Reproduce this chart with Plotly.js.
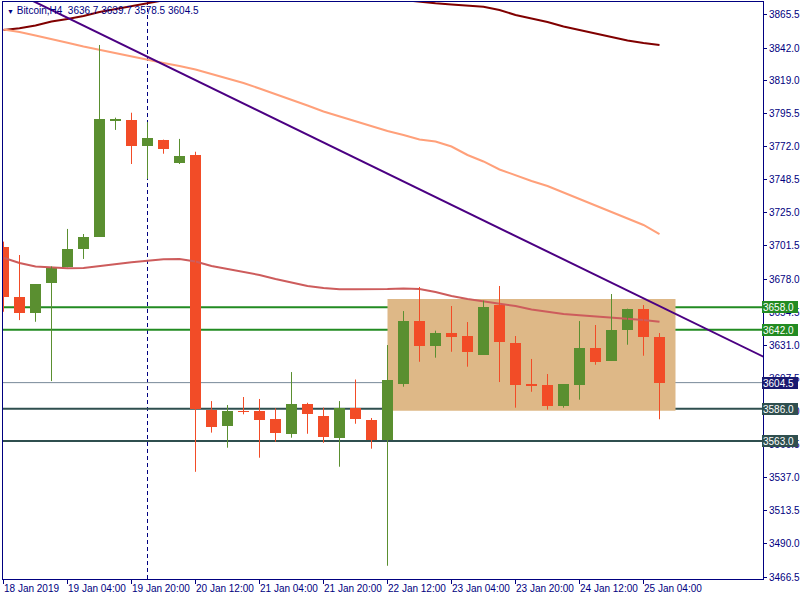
<!DOCTYPE html>
<html>
<head>
<meta charset="utf-8">
<script src="https://cdn.plot.ly/plotly-3.0.1.min.js"></script>
<style>html,body{margin:0;padding:0;background:#fff}#chart{width:800px;height:600px}</style>
</head>
<body>
<div id="chart"></div>
<script>
const symbolName = 'Bitcoin,H4';
const times = [
 '2019-01-18 12:00','2019-01-18 16:00','2019-01-18 20:00','2019-01-19 00:00','2019-01-19 04:00','2019-01-19 08:00',
 '2019-01-19 12:00','2019-01-19 16:00','2019-01-19 20:00','2019-01-20 00:00','2019-01-20 04:00','2019-01-20 08:00',
 '2019-01-20 12:00','2019-01-20 16:00','2019-01-20 20:00','2019-01-21 00:00','2019-01-21 04:00','2019-01-21 08:00',
 '2019-01-21 12:00','2019-01-21 16:00','2019-01-21 20:00','2019-01-22 00:00','2019-01-22 04:00','2019-01-22 08:00',
 '2019-01-22 12:00','2019-01-22 16:00','2019-01-22 20:00','2019-01-23 00:00','2019-01-23 04:00','2019-01-23 08:00',
 '2019-01-23 12:00','2019-01-23 16:00','2019-01-23 20:00','2019-01-24 00:00','2019-01-24 04:00','2019-01-24 08:00',
 '2019-01-24 12:00','2019-01-24 16:00','2019-01-24 20:00','2019-01-25 00:00','2019-01-25 04:00','2019-01-25 08:00'
];
const openP  = [3701.0,3665.5,3654.1,3675.0,3686.4,3699.4,3708.1,3790.5,3791.0,3772.7,3776.8,3760.4,3766.1,3585.1,3573.9,3584.3,3584.3,3578.7,3568.2,3589.3,3581.1,3565.4,3586.8,3578.0,3564.0,3603.7,3648.2,3630.7,3639.7,3637.6,3624.3,3659.6,3632.6,3603.5,3602.6,3588.1,3603.0,3629.1,3620.1,3642.1,3656.8,3636.7];
const highP  = [3704.6,3695.1,3674.5,3687.0,3713.6,3710.0,3844.2,3792.6,3796.1,3789.5,3777.0,3777.5,3768.4,3591.4,3588.6,3594.3,3592.9,3586.3,3612.0,3590.2,3586.8,3591.4,3606.7,3579.4,3631.2,3655.3,3672.4,3641.4,3658.9,3647.5,3662.7,3673.1,3637.6,3621.3,3610.6,3603.5,3648.2,3645.4,3667.4,3657.0,3659.6,3639.7];
const lowP   = [3654.8,3648.9,3647.7,3605.6,3686.4,3692.3,3708.1,3783.9,3759.7,3749.1,3767.0,3759.7,3541.2,3569.0,3558.3,3582.0,3551.2,3562.5,3565.4,3568.2,3561.8,3544.8,3575.3,3557.6,3474.5,3601.6,3619.3,3622.2,3626.4,3615.8,3624.3,3604.9,3586.7,3598.0,3585.3,3586.7,3592.4,3617.2,3620.1,3631.4,3623.6,3578.5];
const closeP = [3665.5,3654.1,3674.5,3686.4,3699.4,3708.1,3791.7,3791.6,3772.7,3778.4,3770.4,3765.4,3585.8,3573.2,3584.3,3583.6,3578.0,3569.0,3589.3,3582.4,3566.1,3586.8,3578.9,3564.0,3606.4,3648.2,3630.7,3639.7,3637.1,3626.4,3658.4,3633.5,3603.0,3602.3,3588.1,3603.5,3629.1,3619.3,3642.1,3656.8,3636.7,3604.5];

const maSlow = [3854.8,3856.1,3858.0,3860.9,3862.7,3864.8,3867.6,3869.8,3871.9,3874.0,3875.9,3877.6,3879.0,3880.2,3881.1,3881.8,3882.2,3882.4,3882.3,3882.0,3881.5,3880.7,3879.7,3878.6,3877.4,3876.1,3874.8,3873.8,3873.0,3872.2,3871.4,3869.0,3865.5,3863.0,3860.5,3857.3,3854.8,3852.0,3849.5,3847.4,3845.6,3844.2];
const maMid  = [3855.2,3853.4,3850.9,3848.5,3845.8,3843.1,3840.7,3838.5,3836.4,3833.9,3831.4,3829.3,3826.8,3823.6,3820.4,3817.2,3813.3,3809.4,3805.5,3801.2,3797.0,3793.4,3790.2,3786.7,3783.1,3780.3,3777.1,3775.7,3772.1,3766.1,3761.5,3755.8,3751.5,3747.6,3744.1,3739.5,3734.9,3730.6,3726.0,3721.4,3716.4,3710.0];
const maFast = [3693.2,3689.4,3686.9,3686.1,3685.7,3685.9,3687.4,3688.7,3690.0,3691.1,3692.1,3692.3,3690.5,3687.3,3685.2,3683.0,3680.9,3678.1,3675.6,3673.1,3671.7,3670.8,3670.8,3670.8,3671.0,3671.4,3671.0,3668.8,3666.0,3663.9,3662.4,3660.8,3658.9,3656.4,3654.6,3653.2,3652.3,3651.6,3650.9,3650.0,3649.0,3647.7];

const trendTimes  = ['2019-01-18 12:00','2019-01-26 12:00'];
const trendPrices = [3885.6, 3620.1];

const levels = [3658.0, 3642.0, 3604.5, 3586.0, 3563.0];
const rectTimes  = ['2019-01-22 12:00','2019-01-25 12:00'];
const rectPrices = [3584.6, 3663.9];
const vlineTime = '2019-01-20 00:00';

const tickTimes  = ['2019-01-18 12:00','2019-01-19 04:00','2019-01-19 20:00','2019-01-20 12:00','2019-01-21 04:00','2019-01-21 20:00','2019-01-22 12:00','2019-01-23 04:00','2019-01-23 20:00','2019-01-24 12:00','2019-01-25 04:00'];
const tickLabels = ['18 Jan 2019','19 Jan 04:00','19 Jan 20:00','20 Jan 12:00','21 Jan 04:00','21 Jan 20:00','22 Jan 12:00','23 Jan 04:00','23 Jan 20:00','24 Jan 12:00','25 Jan 04:00'];
const priceTicks = [3466.5,3490.0,3513.5,3537.0,3560.5,3584.0,3607.5,3631.0,3654.5,3678.0,3701.5,3725.0,3748.5,3772.0,3795.5,3819.0,3842.0,3865.5];

// styles
const NAVY = '#000080';
const UP = '#5A8F30', DOWN = '#F24C27';
const FONT = 'Tahoma, "Liberation Sans", Arial, sans-serif';
const levelLine = [
  {color:'#228B22', width:2}, {color:'#228B22', width:2}, {color:'#778899', width:1},
  {color:'#2F4F4F', width:2}, {color:'#2F4F4F', width:2}
];
const levelBox = ['#228B22','#228B22','#191970','#2F4F4F','#2F4F4F'];
const BAR_MS = 4*3600*1000*11/16;

const up = closeP.map((c,i)=>c>=openP[i]);
function wicks(flag){
  const x=[], y=[];
  times.forEach((t,i)=>{ if(up[i]===flag){ x.push(t,t,null); y.push(lowP[i],highP[i],null);} });
  return {x,y};
}
const wu = wicks(true), wd = wicks(false);

const traces = [
  {type:'scatter', mode:'lines', x:times, y:maSlow, line:{color:'#800000', width:2}, hoverinfo:'skip'},
  {type:'scatter', mode:'lines', x:times, y:maMid, line:{color:'#FFA07A', width:2}, hoverinfo:'skip'},
  {type:'scatter', mode:'lines', x:times, y:maFast, line:{color:'#CD5C5C', width:2}, hoverinfo:'skip'},
  {type:'scatter', mode:'lines', x:trendTimes, y:trendPrices, line:{color:'#4B0082', width:2}, hoverinfo:'skip'},
  {type:'scatter', mode:'lines', x:wu.x, y:wu.y, line:{color:UP, width:1}, hoverinfo:'skip'},
  {type:'scatter', mode:'lines', x:wd.x, y:wd.y, line:{color:DOWN, width:1}, hoverinfo:'skip'},
  {type:'bar', x:times, base:openP.map((o,i)=>Math.min(o,closeP[i])),
   y:openP.map((o,i)=>Math.max(Math.abs(closeP[i]-o),0.4)),
   width:times.map(()=>BAR_MS),
   marker:{color:up.map(u=>u?UP:DOWN), line:{width:0}}, hoverinfo:'skip'}
];

const shapes = [
  {type:'rect', layer:'below', xref:'x', yref:'y', x0:rectTimes[0], x1:rectTimes[1], y0:rectPrices[0], y1:rectPrices[1],
   fillcolor:'#DEB887', line:{width:0}},
  {type:'line', layer:'below', xref:'x', yref:'paper', x0:vlineTime, x1:vlineTime, y0:0, y1:1,
   line:{color:NAVY, width:1, dash:'4px,3px'}}
].concat(levels.map((v,k)=>({type:'line', layer:'below', xref:'paper', yref:'y', x0:0, x1:1, y0:v, y1:v, line:levelLine[k]})));

const last = closeP.length-1;
const annotations = [
  {xref:'paper', yref:'paper', x:0, y:1, xanchor:'left', yanchor:'top', xshift:2, yshift:-1, showarrow:false,
   align:'left', font:{family:FONT, size:10, color:NAVY},
   text:'<span style="font-size:7px">▼</span> '+symbolName+'&nbsp;&nbsp;'+[openP[last],highP[last],lowP[last],closeP[last]].map(v=>v.toFixed(1)).join(' ')}
].concat(tickLabels.map((t,k)=>({xref:'x', yref:'paper', x:tickTimes[k], y:0, xanchor:'left', yanchor:'top', xshift:-2, yshift:-2,
   showarrow:false, text:t, font:{family:FONT, size:10, color:NAVY}})))
 .concat(levels.map((v,k)=>({xref:'paper', yref:'y', x:1, y:v, xanchor:'left', yanchor:'middle', xshift:-1, showarrow:false,
   text:v.toFixed(1), width:34, height:10, align:'left', valign:'middle',
   bgcolor:levelBox[k], borderpad:1, borderwidth:0, font:{family:FONT, size:10, color:'#ffffff'}})));

const layout = {
  width:800, height:600,
  margin:{l:3, r:37, t:2, b:21, pad:0},
  paper_bgcolor:'#ffffff', plot_bgcolor:'#ffffff',
  showlegend:false,
  xaxis:{type:'date', range:['2019-01-18 11:52:30','2019-01-26 09:52:30'], showgrid:false, zeroline:false,
    showline:true, linecolor:NAVY, linewidth:1, mirror:true,
    tickmode:'array', tickvals:tickTimes, ticktext:tickTimes.map(()=>''), ticks:'outside', ticklen:4, tickcolor:NAVY, showticklabels:false,
    fixedrange:true},
  yaxis:{side:'right', range:[3465.1, 3874.7], showgrid:false, zeroline:false,
    showline:true, linecolor:NAVY, linewidth:1, mirror:true,
    tickmode:'array', tickvals:priceTicks, ticktext:priceTicks.map(v=>v.toFixed(1)),
    ticks:'outside', ticklen:3, tickcolor:NAVY,
    tickfont:{family:FONT, size:10, color:NAVY}, fixedrange:true},
  bargap:0,
  shapes:shapes,
  annotations:annotations
};

Plotly.newPlot('chart', traces, layout, {staticPlot:true, displayModeBar:false});
</script>
</body>
</html>
